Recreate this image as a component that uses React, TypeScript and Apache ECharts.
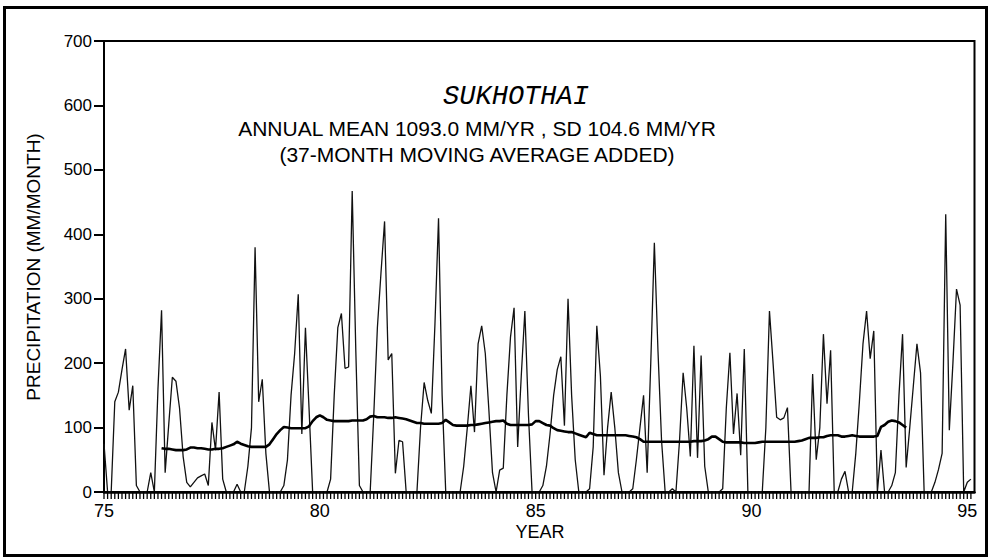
import React, { useEffect, useRef } from "react";
import * as echarts from "echarts";

// Monthly precipitation (mm/month), Jan 1975 .. Feb 1995, one row per year
const precip1975 = [75, 0, 0, 140, 155, 190, 222, 127, 165, 10, 0, 0];
const precip1976 = [0, 30, 0, 160, 282, 30, 105, 178, 172, 130, 55, 15];
const precip1977 = [8, 15, 22, 25, 28, 10, 108, 65, 155, 20, 0, 0];
const precip1978 = [0, 12, 0, 0, 40, 100, 380, 140, 175, 60, 0, 0];
const precip1979 = [0, 0, 10, 50, 150, 215, 307, 90, 255, 130, 0, 0];
const precip1980 = [0, 0, 0, 20, 150, 255, 277, 192, 194, 467, 220, 10];
const precip1981 = [0, 0, 0, 120, 255, 340, 420, 205, 215, 29, 80, 78];
const precip1982 = [0, 0, 0, 0, 100, 170, 142, 122, 260, 425, 150, 0];
const precip1983 = [0, 0, 0, 0, 40, 100, 165, 93, 230, 258, 215, 127];
const precip1984 = [30, 0, 34, 37, 150, 240, 286, 70, 180, 281, 120, 0];
const precip1985 = [0, 0, 10, 40, 90, 150, 190, 210, 103, 300, 150, 50];
const precip1986 = [0, 0, 0, 5, 70, 258, 180, 26, 100, 155, 100, 30];
const precip1987 = [0, 0, 0, 5, 50, 100, 150, 30, 200, 387, 220, 80];
const precip1988 = [0, 0, 5, 0, 80, 185, 130, 55, 227, 53, 212, 40];
const precip1989 = [0, 0, 0, 0, 5, 130, 216, 90, 153, 57, 222, 0];
const precip1990 = [0, 0, 0, 0, 100, 281, 200, 116, 112, 115, 131, 0];
const precip1991 = [0, 0, 0, 0, 0, 183, 50, 100, 245, 137, 220, 0];
const precip1992 = [0, 20, 32, 0, 0, 60, 140, 230, 281, 207, 250, 0];
const precip1993 = [65, 0, 0, 10, 30, 150, 245, 38, 100, 165, 230, 185];
const precip1994 = [0, 0, 0, 15, 35, 60, 431, 96, 200, 315, 290, 0];
const precip1995 = [15, 20];

// 37-month moving average (mm/month), same monthly grid
const ma1975: (number | null)[] = [null, null, null, null, null, null, null, null, null, null, null, null];
const ma1976: (number | null)[] = [null, null, null, null, 68, 67, 67, 66, 65, 65, 65, 66];
const ma1977 = [69, 69, 68, 68, 67, 66, 66, 67, 67, 68, 70, 72];
const ma1978 = [74, 78, 75, 73, 71, 70, 70, 70, 70, 70, 74, 82];
const ma1979 = [90, 96, 101, 100, 99, 99, 99, 99, 99, 102, 110, 116];
const ma1980 = [119, 116, 112, 111, 110, 110, 110, 110, 110, 111, 111, 111];
const ma1981 = [111, 113, 117, 118, 116, 116, 116, 115, 115, 116, 115, 114];
const ma1982 = [113, 111, 109, 107, 107, 106, 106, 106, 106, 106, 107, 112];
const ma1983 = [108, 104, 103, 103, 103, 103, 104, 104, 105, 106, 107, 108];
const ma1984 = [109, 110, 110, 111, 106, 104, 104, 104, 104, 104, 104, 105];
const ma1985 = [110, 110, 107, 104, 103, 99, 96, 95, 94, 93, 93, 91];
const ma1986 = [89, 87, 85, 92, 90, 88, 88, 88, 88, 88, 88, 88];
const ma1987 = [88, 88, 87, 86, 85, 82, 78, 78, 78, 78, 78, 78];
const ma1988 = [78, 78, 78, 78, 78, 78, 78, 78, 79, 79, 79, 80];
const ma1989 = [82, 86, 86, 82, 78, 77, 77, 77, 77, 77, 76, 76];
const ma1990 = [76, 76, 77, 78, 78, 78, 78, 78, 78, 78, 78, 78];
const ma1991 = [78, 79, 80, 82, 84, 84, 84, 85, 85, 87, 88, 88];
const ma1992 = [88, 86, 86, 87, 88, 87, 86, 86, 86, 86, 86, 87];
const ma1993: (number | null)[] = [101, 104, 109, 111, 110, 108, 104, 100, null, null, null, null];

const precipYears = [
  precip1975, precip1976, precip1977, precip1978, precip1979, precip1980, precip1981,
  precip1982, precip1983, precip1984, precip1985, precip1986, precip1987, precip1988,
  precip1989, precip1990, precip1991, precip1992, precip1993, precip1994, precip1995,
];
const maYears = [
  ma1975, ma1976, ma1977, ma1978, ma1979, ma1980, ma1981, ma1982, ma1983, ma1984,
  ma1985, ma1986, ma1987, ma1988, ma1989, ma1990, ma1991, ma1992, ma1993,
];

const START_YEAR = 75;
const MONTHS_ON_AXIS = 242; // Jan 75 .. Mar 95
const X_MAX = START_YEAR + MONTHS_ON_AXIS / 12;
const yTicks = [0, 100, 200, 300, 400, 500, 600, 700];
const xTickLabels = [75, 80, 85, 90, 95];

const TITLE = "SUKHOTHAI";
const SUBTITLE1 = "ANNUAL MEAN 1093.0 MM/YR , SD 104.6 MM/YR";
const SUBTITLE2 = "(37-MONTH MOVING AVERAGE ADDED)";
const Y_NAME = "PRECIPITATION (MM/MONTH)";
const X_NAME = "YEAR";

export default function App() {
  const ref = useRef<HTMLDivElement>(null);

  useEffect(() => {
    document.body.style.margin = "0";
    if (!ref.current) return;
    const chart = echarts.init(ref.current, null, { renderer: "svg" });

    const precipData: [number, number][] = [];
    precipYears.flat().forEach((v, i) => precipData.push([START_YEAR + i / 12, v]));
    const maData: [number, number][] = [];
    maYears.flat().forEach((v, i) => {
      if (v !== null) maData.push([START_YEAR + i / 12, v]);
    });
    const monthPositions: number[] = [];
    for (let i = 0; i < MONTHS_ON_AXIS; i++) monthPositions.push(START_YEAR + i / 12);

    const font = "'Liberation Sans', Arial, Helvetica, sans-serif";

    const baseGraphics: any[] = [
      {
        type: "rect",
        shape: { x: 4.5, y: 7.5, width: 982, height: 548 },
        style: { fill: "transparent", stroke: "#000", lineWidth: 3 },
        silent: true,
      },
      {
        type: "text",
        x: 516,
        y: 97,
        style: {
          text: TITLE,
          fill: "#000",
          font: "italic 27px 'Liberation Mono', 'Courier New', monospace",
          textAlign: "center",
          textVerticalAlign: "middle",
        },
      },
      {
        type: "text",
        x: 477,
        y: 128,
        style: {
          text: SUBTITLE1,
          fill: "#000",
          font: `21px ${font}`,
          textAlign: "center",
          textVerticalAlign: "middle",
        },
      },
      {
        type: "text",
        x: 477,
        y: 154,
        style: {
          text: SUBTITLE2,
          fill: "#000",
          font: `21px ${font}`,
          textAlign: "center",
          textVerticalAlign: "middle",
        },
      },
      {
        type: "text",
        x: 33,
        y: 267,
        rotation: Math.PI / 2,
        style: {
          text: Y_NAME,
          fill: "#000",
          font: `19px ${font}`,
          textAlign: "center",
          textVerticalAlign: "middle",
        },
      },
      {
        type: "text",
        x: 540,
        y: 532,
        style: {
          text: X_NAME,
          fill: "#000",
          font: `18px ${font}`,
          textAlign: "center",
          textVerticalAlign: "middle",
        },
      },
    ];

    chart.setOption({
      animation: false,
      backgroundColor: "#ffffff",
      grid: {
        left: 104,
        right: 15.5,
        top: 41,
        bottom: 68,
        show: true,
        borderColor: "#000",
        borderWidth: 2,
        backgroundColor: "transparent",
      },
      xAxis: {
        type: "value",
        min: START_YEAR,
        max: X_MAX,
        interval: 5,
        axisLine: { show: true, onZero: false, lineStyle: { color: "#000", width: 2.5 } },
        axisTick: { show: false },
        splitLine: { show: false },
        axisLabel: {
          margin: 10,
          color: "#000",
          fontSize: 18,
          fontFamily: font,
          formatter: (v: number) => {
            const r = Math.round(v);
            return Math.abs(v - r) < 1e-6 && xTickLabels.includes(r) ? String(r) : "";
          },
        },
      },
      yAxis: {
        type: "value",
        min: yTicks[0],
        max: yTicks[yTicks.length - 1],
        interval: 100,
        axisLine: { show: true, lineStyle: { color: "#000", width: 2 } },
        axisTick: { show: true, inside: false, length: 10, lineStyle: { color: "#000", width: 2 } },
        splitLine: { show: false },
        axisLabel: {
          margin: 12,
          color: "#000",
          fontSize: 17,
          fontFamily: font,
        },
      },
      graphic: baseGraphics,
      series: [
        {
          name: "Precipitation",
          type: "line",
          data: precipData,
          showSymbol: false,
          symbol: "none",
          lineStyle: { color: "#111", width: 1.3 },
          z: 2,
        },
        {
          name: "37-month moving average",
          type: "line",
          data: maData,
          showSymbol: false,
          symbol: "none",
          lineStyle: { color: "#000", width: 2.6 },
          z: 3,
        },
      ],
    });

    // monthly ticks below the time axis, placed through the axis scale
    const tickGraphics = monthPositions.map((x) => {
      const p = chart.convertToPixel({ gridIndex: 0 }, [x, 0]) as number[];
      return {
        type: "line",
        z: 100,
        silent: true,
        shape: { x1: p[0], y1: p[1] - 1, x2: p[0], y2: p[1] + 7 },
        style: { stroke: "#000", lineWidth: 1.3 },
      };
    });
    chart.setOption({ graphic: [...baseGraphics, ...tickGraphics] });

    return () => chart.dispose();
  }, []);

  return <div ref={ref} style={{ width: 990, height: 560, background: "#fff" }} />;
}
